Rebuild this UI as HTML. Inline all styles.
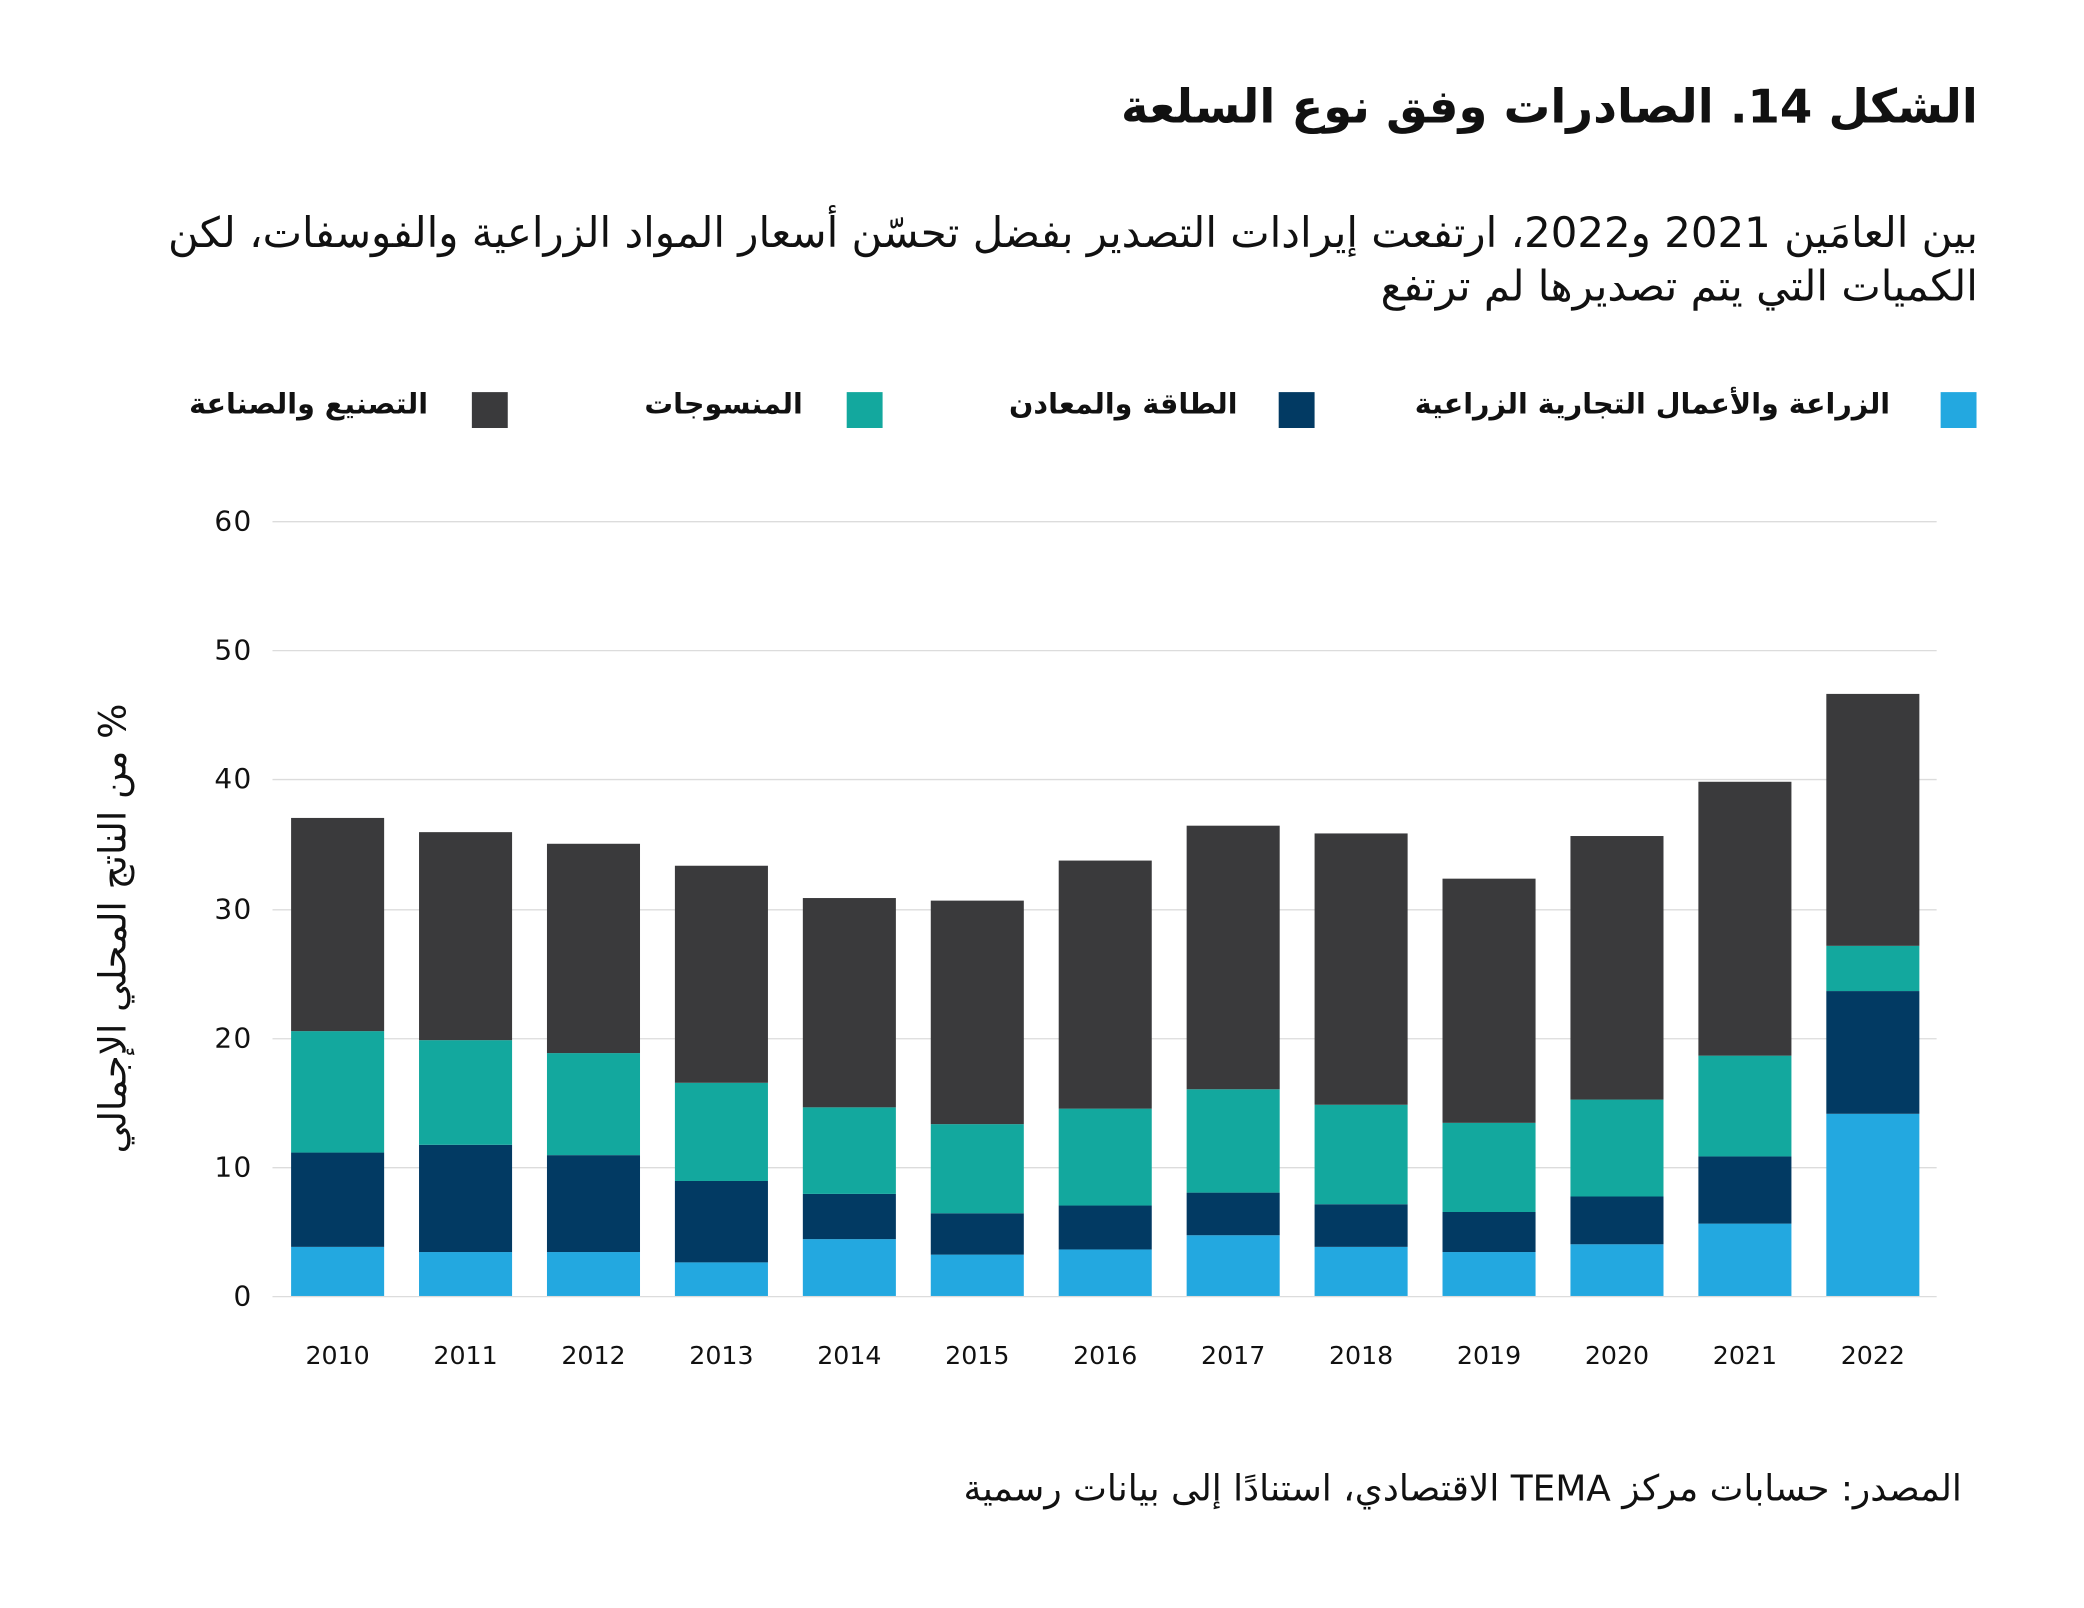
<!DOCTYPE html>
<html><head><meta charset="utf-8"><style>
html,body{margin:0;padding:0;background:#fff;}
#wrap{width:2084px;height:1608px;overflow:hidden;position:relative;}
#c{position:absolute;left:0;top:0;width:1560px;height:1204px;transform:scale(1.3292);transform-origin:0 0;font-family:"DejaVu Sans","Liberation Sans",sans-serif;color:#111;}
.t{position:absolute;direction:rtl;white-space:nowrap;}
</style></head><body><div id="wrap"><div id="c">
<div class="t" style="right:72px;top:61px;font-size:35px;font-weight:bold;">الشكل 14. الصادرات وفق نوع السلعة</div>
<div class="t" style="right:72px;top:156px;font-size:31.5px;line-height:40px;text-align:right;">بين العامَين 2021 و2022، ارتفعت إيرادات التصدير بفضل تحسّن أسعار المواد الزراعية والفوسفات، لكن<br>الكميات التي يتم تصديرها لم ترتفع</div>

<div style="position:absolute;left:1460px;top:295px;width:27px;height:27px;background:#23a8e0"></div>
<div class="t" style="right:138px;top:292px;font-size:21.5px;font-weight:bold;">الزراعة والأعمال التجارية الزراعية</div>
<div style="position:absolute;left:962px;top:295px;width:27px;height:27px;background:#023a63"></div>
<div class="t" style="right:629px;top:292px;font-size:21.5px;font-weight:bold;">الطاقة والمعادن</div>
<div style="position:absolute;left:637px;top:295px;width:27px;height:27px;background:#13a89e"></div>
<div class="t" style="right:956px;top:292px;font-size:21.5px;font-weight:bold;">المنسوجات</div>
<div style="position:absolute;left:355px;top:295px;width:27px;height:27px;background:#3a3a3c"></div>
<div class="t" style="right:1238px;top:292px;font-size:21.5px;font-weight:bold;">التصنيع والصناعة</div>

<div class="t" style="left:-115px;top:682px;width:400px;text-align:center;font-size:28px;transform:rotate(-90deg);">% من الناتج المحلي الإجمالي</div>

<svg style="position:absolute;left:0;top:0" width="1560" height="1204" viewBox="0 0 1560 1204" font-family="DejaVu Sans, Liberation Sans, sans-serif">
<g stroke="#dcdcdc" stroke-width="1">
<line x1="205" y1="392.5" x2="1457" y2="392.5"/><line x1="205" y1="489.5" x2="1457" y2="489.5"/><line x1="205" y1="586.5" x2="1457" y2="586.5"/><line x1="205" y1="684.5" x2="1457" y2="684.5"/><line x1="205" y1="781.5" x2="1457" y2="781.5"/><line x1="205" y1="878.5" x2="1457" y2="878.5"/><line x1="205" y1="975.5" x2="1457" y2="975.5"/>
</g>
<g font-size="21" fill="#111" text-anchor="end" letter-spacing="1">
<text x="190" y="399">60</text><text x="190" y="496">50</text><text x="190" y="593">40</text><text x="190" y="691">30</text><text x="190" y="788">20</text><text x="190" y="885">10</text><text x="190" y="982">0</text>
</g>
<g id="bars"></g>
<g font-size="19" fill="#111" text-anchor="middle" id="xl"></g>
</svg>
<div class="t" style="right:84px;top:1105px;font-size:27px;">المصدر: حسابات مركز TEMA الاقتصادي، استنادًا إلى بيانات رسمية</div>
</div></div>
<script>
var d=[[3.8,11.1,20.5,37.0],[3.4,11.7,19.8,35.9],[3.4,10.9,18.8,35.0],[2.6,8.9,16.5,33.3],[4.4,7.9,14.6,30.8],[3.2,6.4,13.3,30.6],[3.6,7.0,14.5,33.7],[4.7,8.0,16.0,36.4],[3.8,7.1,14.8,35.8],[3.4,6.5,13.4,32.3],[4.0,7.7,15.2,35.6],[5.6,10.8,18.6,39.8],[14.1,23.6,27.1,46.6]];
var col=["#23a8e0","#023a63","#13a89e","#3a3a3c"];
var s="",xl="";
function Y(v){return 975-v*9.72;}
d.forEach(function(r,i){var cx=254+i*96.25,x=cx-35,prev=0;
r.forEach(function(v,j){s+='<rect x="'+x+'" y="'+Y(v)+'" width="70" height="'+(Y(prev)-Y(v))+'" fill="'+col[j]+'"/>';prev=v;});
xl+='<text x="'+cx+'" y="1026">'+(2010+i)+'</text>';});
document.getElementById("bars").innerHTML=s;document.getElementById("xl").innerHTML=xl;
</script>
</body></html>
